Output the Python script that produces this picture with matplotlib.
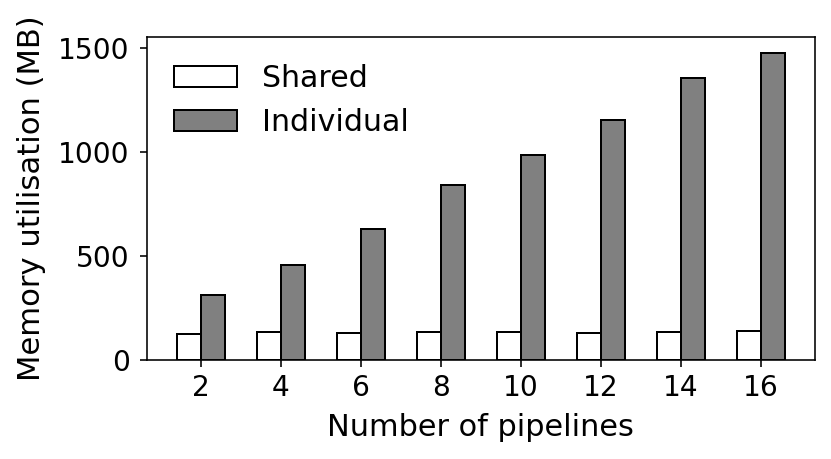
import matplotlib
matplotlib.use("Agg")
import matplotlib.pyplot as plt
import numpy as np

pipelines = [2, 4, 6, 8, 10, 12, 14, 16]
shared = [125, 133, 128, 136, 133, 130, 137, 138]
individual = [311, 457, 630, 843, 986, 1154, 1359, 1479]

DPI = 144
fig = plt.figure(figsize=(831/DPI, 459/DPI), dpi=DPI)
ax = fig.add_axes([146.7/831, 1-360/459, (815-146.7)/831, (360-37.3)/459])

x = np.arange(len(pipelines))
w = 0.3
ax.bar(x - w/2, shared, w, color="white", edgecolor="black", linewidth=1.0, label="Shared")
ax.bar(x + w/2, individual, w, color="#808080", edgecolor="black", linewidth=1.0, label="Individual")

ax.set_xticks(x)
ax.set_xticklabels([str(p) for p in pipelines])
ax.tick_params(labelsize=14)
ax.tick_params(axis="y", pad=5)
ax.set_xlabel("Number of pipelines", fontsize=15.2, labelpad=5.5)
ax.set_ylabel("Memory utilisation (MB)", fontsize=15.3, labelpad=6)
ax.set_yticks([0, 500, 1000, 1500])
ax.legend(loc="upper left", frameon=False, fontsize=15, handlelength=2.1, handletextpad=0.85)

fig.savefig("out.png", dpi=DPI)
